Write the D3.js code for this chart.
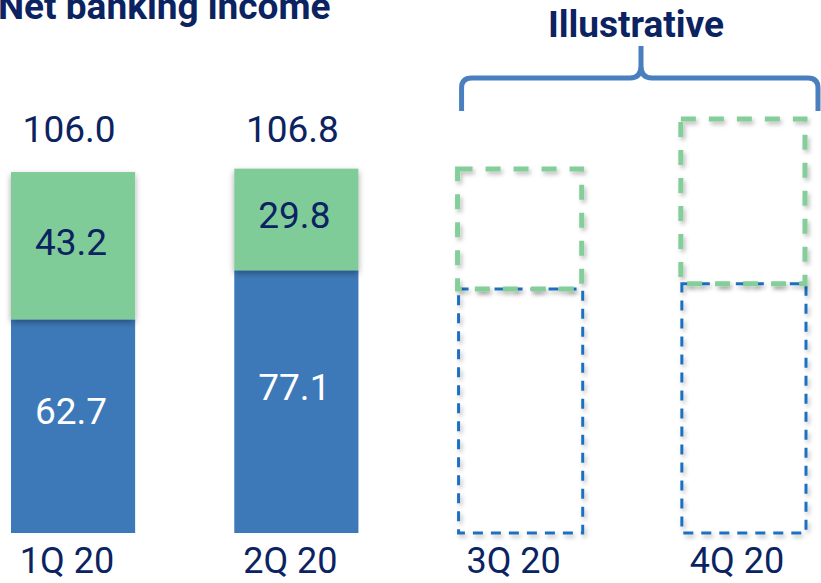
<!DOCTYPE html>
<html>
<head>
<meta charset="utf-8">
<script src="https://cdn.jsdelivr.net/npm/d3@7/dist/d3.min.js"></script>
<style>
  html, body { margin: 0; padding: 0; background: #fff; }
  svg { display: block; font-family: Roboto, "Noto Sans", sans-serif; }
</style>
</head>
<body>
<svg id="chart" width="821" height="583"></svg>
<script>
// ---- data ----
const categories = ["1Q 20", "2Q 20", "3Q 20", "4Q 20"];
const blueValues = [62.7, 77.1, null, null];
const greenValues = [43.2, 29.8, null, null];
const totals = [106.0, 106.8, null, null];
// illustrative (dashed, unlabeled) outlines for 3Q/4Q
const illusBlue = [null, null, 71.6, 73.1];
const illusGreen = [null, null, 35.2, 48.4];
const titleText = "Net banking income";
const illusText = "Illustrative";

// ---- styles ----
const navy = "#0b2361";
const green = "#80cc98";
const blue = "#3d79b8";
const axisBlue = "#4a7fbe";

const svg = d3.select("#chart");
const defs = svg.append("defs");
const f1 = defs.append("filter").attr("id", "sh").attr("x", "-10%").attr("y", "-10%").attr("width", "120%").attr("height", "130%");
f1.append("feDropShadow").attr("dx", 0).attr("dy", 3).attr("stdDeviation", 3).attr("flood-color", "#000").attr("flood-opacity", 0.35);
const f2 = defs.append("filter").attr("id", "sh2").attr("x", "-10%").attr("y", "-10%").attr("width", "120%").attr("height", "130%");
f2.append("feDropShadow").attr("dx", 2).attr("dy", 3).attr("stdDeviation", 2).attr("flood-color", "#000").attr("flood-opacity", 0.25);

const x = d3.scaleBand().domain(categories).range([11, 805]).paddingInner(0.444).paddingOuter(0);
const y = d3.scaleLinear().domain([0, 120]).range([533, 124]);

// axis
const axis = d3.axisBottom(x).tickSize(0).tickSizeOuter(0).tickPadding(12);
const gAxis = svg.append("g").attr("transform", "translate(0,535)").call(axis);
gAxis.select(".domain").attr("stroke", axisBlue).attr("stroke-width", 4).attr("filter", "url(#sh)")
  .attr("d", "M11,0H798");
gAxis.selectAll(".tick text").attr("fill", navy).attr("font-size", 36)
  .attr("font-family", "Roboto, sans-serif").attr("dx", -6);

const idx = d3.range(categories.length);

// blue segments
svg.append("g").selectAll("rect").data(idx.filter(i => blueValues[i] != null)).join("rect")
  .attr("x", i => x(categories[i])).attr("width", x.bandwidth())
  .attr("y", i => y(blueValues[i])).attr("height", i => y(0) - y(blueValues[i]))
  .attr("fill", blue);
// green segments
svg.append("g").selectAll("rect").data(idx.filter(i => greenValues[i] != null)).join("rect")
  .attr("x", i => x(categories[i])).attr("width", x.bandwidth())
  .attr("y", i => y(blueValues[i] + greenValues[i])).attr("height", i => y(blueValues[i]) - y(blueValues[i] + greenValues[i]))
  .attr("fill", green).attr("filter", "url(#sh)");

// illustrative dashed boxes
svg.append("g").selectAll("rect").data(idx.filter(i => illusBlue[i] != null)).join("rect")
  .attr("x", i => x(categories[i]) + 1).attr("width", x.bandwidth())
  .attr("y", i => y(illusBlue[i])).attr("height", i => y(0) - y(illusBlue[i]))
  .attr("fill", "none").attr("stroke", "#1f6fc0").attr("stroke-width", 3)
  .attr("stroke-dasharray", "10,8").attr("filter", "url(#sh2)");
svg.append("g").selectAll("rect").data(idx.filter(i => illusGreen[i] != null)).join("rect")
  .attr("x", i => x(categories[i])).attr("width", x.bandwidth())
  .attr("y", i => y(illusBlue[i] + illusGreen[i])).attr("height", i => y(illusBlue[i]) - y(illusBlue[i] + illusGreen[i]))
  .attr("fill", "none").attr("stroke", "#84ce9a").attr("stroke-width", 5)
  .attr("stroke-dasharray", "15,13").attr("filter", "url(#sh2)");

// labels
const lbl = svg.append("g").attr("font-size", 37).attr("text-anchor", "middle");
lbl.selectAll("text.blue").data(idx.filter(i => blueValues[i] != null)).join("text")
  .attr("class", "blue")
  .attr("x", i => x(categories[i]) + x.bandwidth() / 2 - 2)
  .attr("y", i => (y(0) + y(blueValues[i])) / 2 - 15).attr("dy", "0.35em")
  .attr("fill", "#fff").text(i => blueValues[i].toFixed(1));
lbl.selectAll("text.green").data(idx.filter(i => greenValues[i] != null)).join("text")
  .attr("class", "green")
  .attr("x", i => x(categories[i]) + x.bandwidth() / 2 - 2)
  .attr("y", i => (y(blueValues[i]) + y(blueValues[i] + greenValues[i])) / 2 - 4).attr("dy", "0.35em")
  .attr("fill", navy).text(i => greenValues[i].toFixed(1));
const totalRow = y(d3.max(totals)) - 27;
lbl.selectAll("text.total").data(idx.filter(i => totals[i] != null)).join("text")
  .attr("class", "total")
  .attr("x", i => x(categories[i]) + x.bandwidth() / 2 - 4)
  .attr("y", totalRow)
  .attr("fill", navy).text(i => totals[i].toFixed(1));

// title
svg.append("text").attr("x", -2).attr("y", 19).attr("font-size", 37).attr("font-weight", 700)
  .attr("fill", navy).text(titleText);

// brace over illustrative columns
const bx0 = x("3Q 20") + 4, bx1 = 818, bmid = 641, by = 78;
const brace = d3.path();
brace.moveTo(bx0, 111);
brace.lineTo(bx0, by + 10);
brace.quadraticCurveTo(bx0, by, bx0 + 10, by);
brace.lineTo(bmid - 11, by);
brace.quadraticCurveTo(bmid, by, bmid, by - 12);
brace.lineTo(bmid, 46);
brace.moveTo(bmid, 46);
brace.lineTo(bmid, by - 12);
brace.quadraticCurveTo(bmid, by, bmid + 11, by);
brace.lineTo(bx1 - 10, by);
brace.quadraticCurveTo(bx1, by, bx1, by + 10);
brace.lineTo(bx1, 111);
svg.append("path").attr("d", brace.toString()).attr("fill", "none")
  .attr("stroke", "#4a7fbf").attr("stroke-width", 5).attr("stroke-linejoin", "round");

svg.append("text").attr("x", 636).attr("y", 37).attr("text-anchor", "middle")
  .attr("font-size", 37).attr("font-weight", 700).attr("fill", navy).text(illusText);
</script>
</body>
</html>
